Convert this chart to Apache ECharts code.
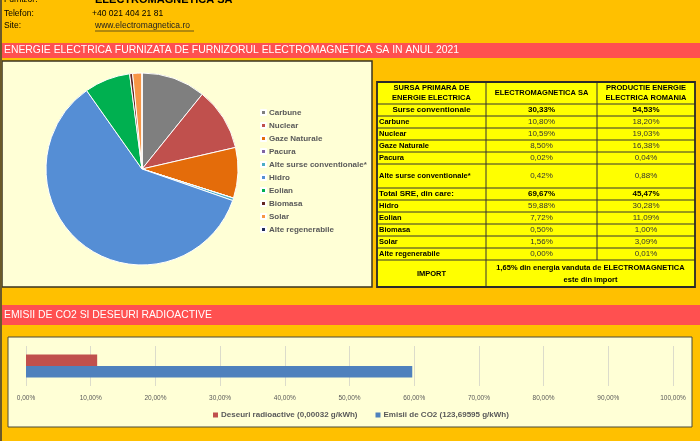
<!DOCTYPE html>
<html>
<head>
<meta charset="utf-8">
<script src="https://cdn.jsdelivr.net/npm/echarts@6/dist/echarts.min.js"></script>
<style>
  html, body { margin: 0; padding: 0; background: #FFC000; }
  #main { width: 700px; height: 441px; }
</style>
</head>
<body>
<div id="main"></div>
<script>
// date citite din tabel / grafic
const sources = ['Carbune', 'Nuclear', 'Gaze Naturale', 'Pacura', 'Alte surse conventionale*',
  'Hidro', 'Eolian', 'Biomasa', 'Solar', 'Alte regenerabile'];
const emShare = [10.80, 10.59, 8.50, 0.02, 0.42, 59.88, 7.72, 0.50, 1.56, 0.00];
const roShare = [18.20, 19.03, 16.38, 0.04, 0.88, 30.28, 11.09, 1.00, 3.09, 0.01];
const groupNames = ['Surse conventionale', 'Total SRE, din care:'];
const emGroup = [30.33, 69.67];
const roGroup = [54.53, 45.47];
const importShare = 1.65;
const impactNames = ['Deseuri radioactive (0,00032 g/kWh)', 'Emisii de CO2 (123,69595 g/kWh)'];
const impactValues = [11.0, 59.7];
const sliceColors = ['#7F7F7F', '#C0504D', '#E46C0A', '#8064A2', '#4BACC6',
  '#558ED5', '#00B050', '#632523', '#F79646', '#1F2A5A'];

const FONT = "'Liberation Sans Narrow', 'Liberation Sans', sans-serif";
const pct = v => v.toFixed(2).replace('.', ',') + '%';

var myChart = echarts.init(document.getElementById('main'));

// elemente de "foaie excel"
let g = [];
function rect(x, y, w, h, fill, stroke, lw, z) {
  g.push({ type: 'rect', z: z || 0, silent: true, shape: { x: x, y: y, width: w, height: h },
    style: { fill: fill, stroke: stroke || null, lineWidth: lw || 0 } });
}
function line(x1, y1, x2, y2, color, lw, z) {
  g.push({ type: 'line', z: z || 1, silent: true, shape: { x1: x1, y1: y1, x2: x2, y2: y2 },
    style: { stroke: color, lineWidth: lw || 1 } });
}
function text(x, y, s, size, opt) {
  opt = opt || {};
  g.push({ type: 'text', z: 3, silent: true, x: x, y: y,
    style: { text: s, fill: opt.color || '#000', fontFamily: FONT, fontSize: size,
      fontWeight: opt.bold ? 'bold' : 'normal', align: opt.align || 'left',
      verticalAlign: 'middle', lineHeight: opt.lh || size + 2 } });
}

// antet
text(4, 0, 'Furnizor:', 8.5);
text(95, 0, 'ELECTROMAGNETICA SA', 11, { bold: true });
text(4, 14, 'Telefon:', 8.5);
text(92, 14, '+40 021 404 21 81', 8.5);
text(4, 26, 'Site:', 8.5);
text(95, 26, 'www.electromagnetica.ro', 8.5, { color: '#222' });
line(95, 31, 194, 31, '#222', 0.7);

// benzi rosii
rect(0, 43, 700, 15, '#FF5050');
text(4, 50.5, 'ENERGIE ELECTRICA FURNIZATA DE FURNIZORUL ELECTROMAGNETICA SA IN ANUL 2021', 10.4, { color: '#fff' });
rect(0, 305, 700, 20, '#FF5050');
text(4, 315, 'EMISII DE CO2 SI DESEURI RADIOACTIVE', 10.4, { color: '#fff' });

// chenare grafice
rect(2, 61, 370, 226, '#FFFFD6', '#3a3320', 1.5);
rect(8, 337, 684, 90, '#FFFFD6', '#4a4a3a', 1);
line(1, 0, 1, 441, '#6b5a2a', 2);

// tabel
const colX = [377, 486, 597, 695];
const rowY = [82, 104, 116, 128, 140, 152, 164, 188, 200, 212, 224, 236, 248, 260, 287];
rect(colX[0], rowY[0], colX[3] - colX[0], rowY[rowY.length - 1] - rowY[0], '#FFFF00');
for (let i = 1; i < rowY.length - 1; i++) line(colX[0], rowY[i], colX[3], rowY[i], '#333', 1);
line(colX[1], rowY[0], colX[1], rowY[rowY.length - 1], '#333', 1);
line(colX[2], rowY[0], colX[2], rowY[rowY.length - 2], '#333', 1);
rect(colX[0], rowY[0], colX[3] - colX[0], rowY[rowY.length - 1] - rowY[0], null, '#2a2a2a', 1.8, 2);

const c1 = (colX[0] + colX[1]) / 2, c2 = (colX[1] + colX[2]) / 2, c3 = (colX[2] + colX[3]) / 2;
const mid = i => (rowY[i] + rowY[i + 1]) / 2;
text(c1, mid(0), 'SURSA PRIMARA DE\nENERGIE ELECTRICA', 7.5, { bold: true, align: 'center', lh: 10.5 });
text(c2, mid(0), 'ELECTROMAGNETICA SA', 7.5, { bold: true, align: 'center' });
text(c3, mid(0), 'PRODUCTIE ENERGIE\nELECTRICA ROMANIA', 7.5, { bold: true, align: 'center', lh: 10.5 });

let r = 1;
[0, 1].forEach(gi => {
  if (gi === 0) text(c1, mid(r), groupNames[gi], 8, { bold: true, align: 'center' });
  else text(colX[0] + 2, mid(r), groupNames[gi], 8, { bold: true });
  text(c2, mid(r), pct(emGroup[gi]), 8, { bold: true, align: 'center' });
  text(c3, mid(r), pct(roGroup[gi]), 8, { bold: true, align: 'center' });
  r++;
  for (let k = gi * 5; k < gi * 5 + 5; k++) {
    text(colX[0] + 2, mid(r), sources[k], 7.5, { bold: true });
    text(c2, mid(r), pct(emShare[k]), 8, { align: 'center', color: '#333' });
    text(c3, mid(r), pct(roShare[k]), 8, { align: 'center', color: '#333' });
    r++;
  }
});
text(c1, mid(r), 'IMPORT', 7.5, { bold: true, align: 'center' });
text((colX[1] + colX[3]) / 2, mid(r),
  importShare.toFixed(2).replace('.', ',') + '% din energia vanduta de ELECTROMAGNETICA\neste din import',
  7.5, { bold: true, align: 'center', lh: 12 });

var option = {
  animation: false,
  backgroundColor: '#FFC000',
  graphic: { elements: g },
  legend: [
    {
      data: sources, orient: 'vertical', left: 255, top: 103,
      icon: 'rect', itemWidth: 5, itemHeight: 5, itemGap: 4,
      textStyle: { fontFamily: FONT, fontSize: 8, fontWeight: 'bold', color: '#595959', lineHeight: 9, padding: [0, 0, 0, -2] },
      selectedMode: false
    },
    {
      data: impactNames, orient: 'horizontal', left: 208, top: 406, itemGap: 18,
      icon: 'rect', itemWidth: 5, itemHeight: 5,
      textStyle: { fontFamily: FONT, fontSize: 8, fontWeight: 'bold', color: '#595959', padding: [0, 0, 0, -2] },
      selectedMode: false
    }
  ],
  grid: { left: 26, right: 27, top: 346, height: 40 },
  xAxis: {
    type: 'value', min: 0, max: 100, interval: 10,
    axisLine: { show: false }, axisTick: { show: false },
    splitLine: { lineStyle: { color: '#DCDCCB', width: 1 } },
    axisLabel: { formatter: v => pct(v), fontFamily: FONT, fontSize: 6.5, color: '#595959', margin: 9 }
  },
  yAxis: {
    type: 'category', data: [''], axisLine: { show: false }, axisTick: { show: false }, axisLabel: { show: false }
  },
  series: [
    {
      type: 'pie', center: [142, 169], radius: 96, startAngle: 90, clockwise: true,
      label: { show: false }, labelLine: { show: false },
      itemStyle: { borderColor: '#fff', borderWidth: 1 },
      emphasis: { disabled: true },
      data: sources.map((n, i) => ({ name: n, value: emShare[i], itemStyle: { color: sliceColors[i] } }))
    },
    {
      name: impactNames[0], type: 'bar', data: [impactValues[0]], barWidth: 11.5, barGap: 0,
      itemStyle: { color: '#C0504D' }
    },
    {
      name: impactNames[1], type: 'bar', data: [impactValues[1]], barWidth: 11.5, barGap: 0,
      itemStyle: { color: '#4F81BD' }
    }
  ]
};

myChart.setOption(option);
</script>
</body>
</html>
